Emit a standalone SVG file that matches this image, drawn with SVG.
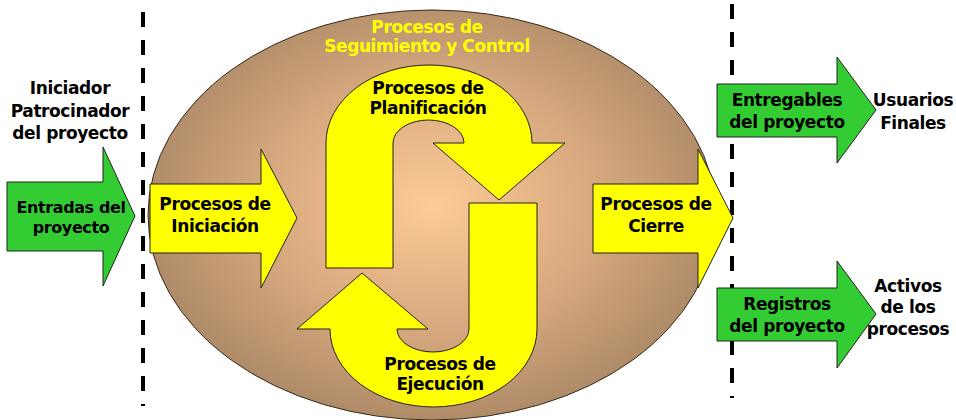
<svg xmlns="http://www.w3.org/2000/svg" width="956" height="420" viewBox="0 0 956 420">
<defs>
<radialGradient id="bg" cx="432" cy="205" r="290" gradientUnits="userSpaceOnUse" gradientTransform="translate(432 205) scale(1 0.75) translate(-432 -205)">
<stop offset="0" stop-color="#FDCB97"/>
<stop offset="0.55" stop-color="#D9AA80"/>
<stop offset="1" stop-color="#AE8B68"/>
</radialGradient>
<style>
.t{font-family:"DejaVu Sans","Verdana",sans-serif;font-weight:bold;font-size:17px;letter-spacing:-0.4px;text-anchor:middle;fill:#000}
.y{fill:#FFFF00}
.ya{fill:#FFFF00;stroke:#222;stroke-width:1}
.ga{fill:#33CC33;stroke:#222;stroke-width:1}
.dash{stroke:#000;stroke-width:4;stroke-dasharray:15 13;fill:none}
</style>
</defs>
<rect width="956" height="420" fill="#fff"/>
<g id="boundaries">
<line class="dash" x1="143" y1="12" x2="143" y2="406"/>
<line class="dash" x1="732" y1="4" x2="732" y2="398"/>
</g>
<g id="ellipse">
<ellipse cx="432" cy="215" rx="284" ry="205" fill="url(#bg)" stroke="#3a2a1a" stroke-width="1"/>
<text class="t y" x="427" y="33">Procesos de</text>
<text class="t y" x="427" y="52">Seguimiento y Control</text>
</g>
<g id="entradas">
<path class="ga" d="M7 182H103V147L135 216L103 286V251H7Z"/>
<text class="t" x="71" y="213" style="font-size:16px">Entradas del</text>
<text class="t" x="71" y="233" style="font-size:16px">proyecto</text>
</g>
<g id="iniciador">
<text class="t" x="70" y="94">Iniciador</text>
<text class="t" x="70" y="117">Patrocinador</text>
<text class="t" x="70" y="139">del proyecto</text>
</g>
<g id="iniciacion">
<path class="ya" d="M150 184H261V149L297 218L261 288V253H150Z"/>
<text class="t" x="215" y="210">Procesos de</text>
<text class="t" x="215" y="232">Iniciación</text>
</g>
<g id="planificacion">
<path class="ya" d="M326 268V143A103 78 0 0 1 532 143H565L499 200L433 143H464A35.5 23 0 0 0 393 143V268Z"/>
<text class="t" x="428" y="94">Procesos de</text>
<text class="t" x="428" y="114">Planificación</text>
</g>
<g id="ejecucion">
<path class="ya" d="M469 203H537V329A103.5 78 0 0 1 330 329H297L362 273L428 329H397A36 23 0 0 0 469 329Z"/>
<text class="t" x="440" y="370">Procesos de</text>
<text class="t" x="440" y="390">Ejecución</text>
</g>
<g id="cierre">
<path class="ya" d="M593 184H698V149L733 218L698 288V253H593Z"/>
<text class="t" x="656" y="210">Procesos de</text>
<text class="t" x="656" y="232">Cierre</text>
</g>
<g id="entregables">
<path class="ga" d="M717 84H837V57L876 110L837 163V137H717Z"/>
<text class="t" x="787" y="106">Entregables</text>
<text class="t" x="787" y="128">del proyecto</text>
</g>
<g id="usuarios">
<text class="t" x="913" y="106">Usuarios</text>
<text class="t" x="913" y="129">Finales</text>
</g>
<g id="registros">
<path class="ga" d="M717 288H837V261L876 314L837 368V341H717Z"/>
<text class="t" x="787" y="310">Registros</text>
<text class="t" x="787" y="332">del proyecto</text>
</g>
<g id="activos">
<text class="t" x="908" y="292">Activos</text>
<text class="t" x="908" y="313">de los</text>
<text class="t" x="908" y="335">procesos</text>
</g>
<g id="connectors"/>
</svg>
